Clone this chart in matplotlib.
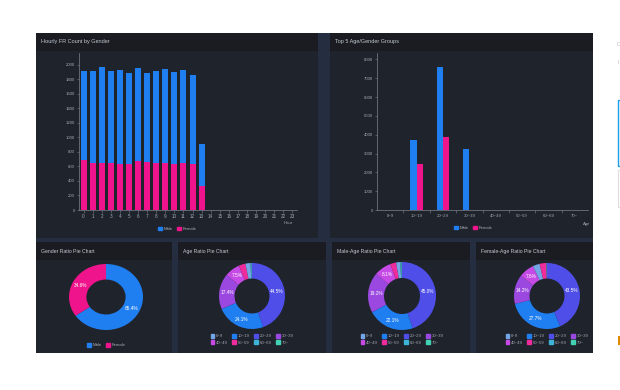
import numpy as np
import matplotlib.pyplot as plt
from matplotlib.patches import Rectangle, Patch

plt.rcParams['font.family'] = ['Liberation Sans', 'DejaVu Sans']

W, H = 620, 390

# ---- data ----
hour_labels = [str(h) for h in range(24)]
hours_with_data = list(range(14))
female_hourly = [686, 650, 650, 650, 641, 641, 673, 664, 654, 650, 632, 650, 641, 325]
male_hourly = [1232, 1263, 1318, 1263, 1286, 1254, 1281, 1226, 1264, 1295, 1267, 1277, 1226, 581]

age_groups = ['0~9', '10~19', '20~29', '30~39', '40~49', '50~59', '60~69', '70~']
top_male = [0, 3726, 7594, 3214, 0, 0, 0, 0]
top_female = [0, 2455, 3868, 0, 0, 0, 0, 0]

gender_labels = ['Male', 'Female']
gender_pct = [65.4, 34.6]
age_pct = [2.5, 24.1, 44.5, 17.4, 7.5, 3.3, 0.5, 0.2]
male_age_pct = [2.0, 22.1, 45.0, 19.2, 8.1, 2.8, 0.5, 0.3]
female_age_pct = [3.4, 27.7, 43.5, 14.2, 7.6, 3.3, 0.2, 0.1]

MALE = '#1f7ff0'
FEMALE = '#f0148c'
age_colors = ['#73a6e6', '#1f7ff0', '#4f4ee8', '#9a48e0', '#c64ae6', '#ef2c9c', '#3db3d6', '#42d1b4']

BG = '#252d40'
PANEL = '#1f232c'
HEAD = '#1a1c22'
TXT = '#c3c8d0'
TICK = '#a3a9b3'
AXC = '#7d838e'

fig = plt.figure(figsize=(W / 100, H / 100), dpi=100)
fig.patch.set_facecolor('white')


def rect(x0, y0, x1, y1, **kw):
    fig.add_artist(Rectangle((x0 / W, 1 - y1 / H), (x1 - x0) / W, (y1 - y0) / H,
                             transform=fig.transFigure, zorder=-1, **kw))


def px_axes(x0, y0, x1, y1):
    ax = fig.add_axes([x0 / W, 1 - y1 / H, (x1 - x0) / W, (y1 - y0) / H])
    ax.set_facecolor('none')
    return ax


def panel(x0, y0, x1, y1, title, head=18, fs=3.7):
    rect(x0, y0, x1, y1, color=PANEL, lw=0)
    rect(x0, y0, x1, y0 + head, color=HEAD, lw=0)
    fig.text((x0 + 5) / W, 1 - (y0 + head / 2) / H, title, color=TXT,
             fontsize=fs, va='center', ha='left')


# dashboard background
rect(36, 33, 593, 353, color=BG, lw=0)
panel(36, 33, 318, 238, 'Hourly FR Count by Gender', fs=4)
panel(330, 33, 593, 238, 'Top 5 Age/Gender Groups', fs=4)
panel(36, 242, 172, 353, 'Gender Ratio Pie Chart')
panel(178, 242, 326, 353, 'Age Ratio Pie Chart')
panel(332, 242, 470, 353, 'Male-Age Ratio Pie Chart')
panel(476, 242, 593, 353, 'Female-Age Ratio Pie Chart')

# bits of page UI cut off on the right
fig.text(617 / W, 1 - 44 / H, 'C', color='#bbbbbb', fontsize=4, va='center')
fig.text(617 / W, 1 - 63 / H, 'I', color='#bbbbbb', fontsize=4, va='center')
rect(618, 100, 640, 166, fill=False, ec='#1a9ee8', lw=1)
rect(618, 170, 640, 207, fill=False, ec='#dddddd', lw=0.8)
rect(618, 336, 621, 345, color='#e08a00', lw=0)


def style_axes(ax):
    for s in ['top', 'right']:
        ax.spines[s].set_visible(False)
    for s in ['left', 'bottom']:
        ax.spines[s].set_color(AXC)
        ax.spines[s].set_linewidth(0.5)
    ax.tick_params(colors=AXC, labelcolor=TICK, labelsize=3.1, length=1.8, width=0.4, pad=1)


def small_legend(handles, x, y, ncol, loc='center'):
    # matplotlib fills legend columns first; reorder so rows read left to right
    nrow = int(np.ceil(len(handles) / ncol))
    idx = [r * ncol + c for c in range(ncol) for r in range(nrow) if r * ncol + c < len(handles)]
    fig.legend(handles=[handles[i] for i in idx], loc=loc, bbox_to_anchor=(x / W, 1 - y / H),
               ncol=ncol, fontsize=3.1, frameon=False, labelcolor=TICK, handlelength=0.9,
               handleheight=0.9, handletextpad=0.4, columnspacing=1.0, labelspacing=0.5,
               borderpad=0, borderaxespad=0)


# ---- hourly stacked bars ----
ax1 = px_axes(79, 53, 297, 210)
ax1.bar(hours_with_data, female_hourly, width=0.66, color=FEMALE, lw=0)
ax1.bar(hours_with_data, male_hourly, bottom=female_hourly, width=0.66, color=MALE, lw=0)
ax1.set_xlim(-0.5, 23.5)
ax1.set_ylim(0, 2165)
ax1.set_yticks(range(0, 2001, 200))
ax1.set_xticks(range(24))
ax1.set_xticklabels(hour_labels)
style_axes(ax1)
ax1.tick_params(axis='x', labelsize=3.3)
fig.text(288 / W, 1 - 223 / H, 'Hour', color=TICK, fontsize=3.1, ha='center', va='center')
small_legend([Patch(color=MALE, label='Male'), Patch(color=FEMALE, label='Female')], 177, 229, 2)

# ---- top 5 age/gender groups ----
ax2 = px_axes(377, 53, 588, 210)
xi = np.arange(len(age_groups))
bw = 0.23
ax2.bar(xi - bw / 2, top_male, width=bw, color=MALE, lw=0)
ax2.bar(xi + bw / 2, top_female, width=bw, color=FEMALE, lw=0)
ax2.set_xlim(-0.5, len(age_groups) - 0.5)
ax2.set_ylim(0, 8340)
ax2.set_yticks(range(0, 8001, 1000))
ax2.set_xticks(np.arange(len(age_groups) - 1) + 0.5)
ax2.set_xticklabels([])
ax2.set_xticks(xi, minor=True)
ax2.set_xticklabels(age_groups, minor=True)
style_axes(ax2)
ax2.tick_params(axis='x', which='minor', length=0, pad=3, labelsize=3.1, labelcolor=TICK)
fig.text(587 / W, 1 - 224 / H, 'Age', color=TICK, fontsize=3.1, ha='center', va='center')
small_legend([Patch(color=MALE, label='Male'), Patch(color=FEMALE, label='Female')], 473, 228, 2)


# ---- rings ----
def ring(cx, cy, rx, ry, vals, labels, colors, legend_y, ncol, sort=True):
    vals = np.array(vals, dtype=float)
    order = np.argsort(-vals, kind='stable') if sort else np.arange(len(vals))
    ax = px_axes(cx - rx, cy - ry, cx + rx, cy + ry)
    v = vals[order]
    ax.pie(v, colors=[colors[i] for i in order], startangle=90, counterclock=False,
           radius=1, wedgeprops=dict(width=0.47, linewidth=0))
    ax.set_aspect('auto')
    ax.set_xlim(-1, 1)
    ax.set_ylim(-1, 1)
    cum = 0.0
    tot = v.sum()
    for val in v:
        if val > 5:
            ang = np.deg2rad(90 - 360 * (cum + val / 2) / tot)
            ax.text(0.77 * np.cos(ang), 0.77 * np.sin(ang), f'{val:.1f}%', color='white',
                    fontsize=3.4, ha='center', va='center')
        cum += val
    small_legend([Patch(color=c, label=l) for c, l in zip(colors, labels)],
                 cx, legend_y, ncol, loc='upper center')


ring(106, 297, 37, 33, gender_pct, gender_labels, [MALE, FEMALE], 343, 2, sort=False)
ring(252, 296, 33, 33, age_pct, age_groups, age_colors, 334, 4)
ring(402, 296, 34, 34, male_age_pct, age_groups, age_colors, 334, 4)
ring(547, 296, 33, 33, female_age_pct, age_groups, age_colors, 334, 4)

fig.savefig('out.png', dpi=100, facecolor='white')
